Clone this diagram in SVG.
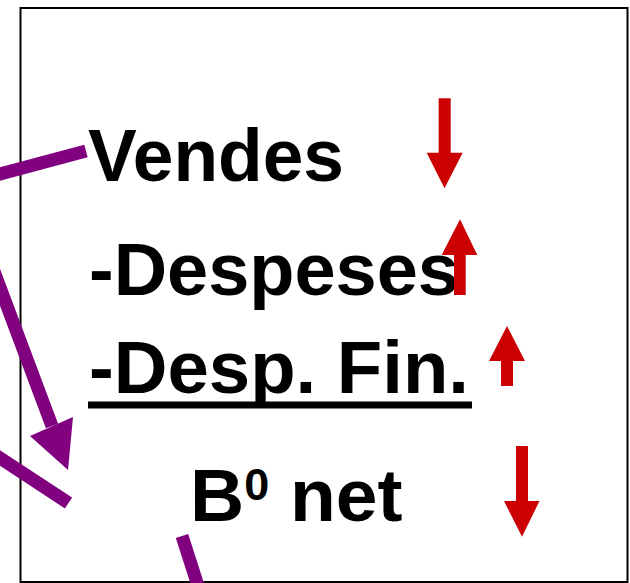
<svg xmlns="http://www.w3.org/2000/svg" width="630" height="583" viewBox="0 0 630 583">
<style>
.t{font-family:"Liberation Sans",Arial,sans-serif;font-weight:bold;font-size:75px;fill:#000}
.p{stroke:#800080;stroke-width:13;fill:none}
.r{fill:#CC0000}
</style>
<rect width="630" height="583" fill="#fff"/>
<g id="frame"><rect x="20.5" y="8" width="607" height="574" fill="none" stroke="#000" stroke-width="2"/></g>
<g id="vendes"><text class="t" x="88" y="181" textLength="256" lengthAdjust="spacingAndGlyphs">Vendes</text></g>
<g id="despeses"><text class="t" x="89" y="295" textLength="370" lengthAdjust="spacingAndGlyphs">-Despeses</text></g>
<g id="despfin"><text class="t" x="89" y="393" textLength="380" lengthAdjust="spacingAndGlyphs">-Desp. Fin.</text>
<rect x="88" y="401.5" width="384" height="7" fill="#000"/></g>
<g id="benefici"><text class="t" x="190" y="521">B<tspan font-size="45" dy="-21">0</tspan><tspan dy="21"> net</tspan></text></g>
<g id="connectors">
<line class="p" x1="-10" y1="176.7" x2="86" y2="151"/>
<line class="p" x1="-14" y1="250" x2="52" y2="426"/>
<polygon fill="#800080" points="68,470 30,436 73,417"/>
<line class="p" x1="-10" y1="451.4" x2="68.5" y2="503"/>
<line class="p" x1="182" y1="536" x2="200" y2="592"/>
</g>
<g id="arrows">
<polygon class="r" points="438.7,98.3 450.7,98.3 450.7,152.7 462.7,152.7 444.5,188.3 426.7,152.7 438.7,152.7"/>
<polygon class="r" points="460,219.3 477.3,255 465.7,255 465.7,295 454,295 454,255 441.7,255"/>
<polygon class="r" points="507,326 525,361 513,361 513,386 501,386 501,361 489,361"/>
<polygon class="r" points="516,446 528,446 528,501 539.5,501 522,536.7 504,501 516,501"/>
</g>
</svg>
